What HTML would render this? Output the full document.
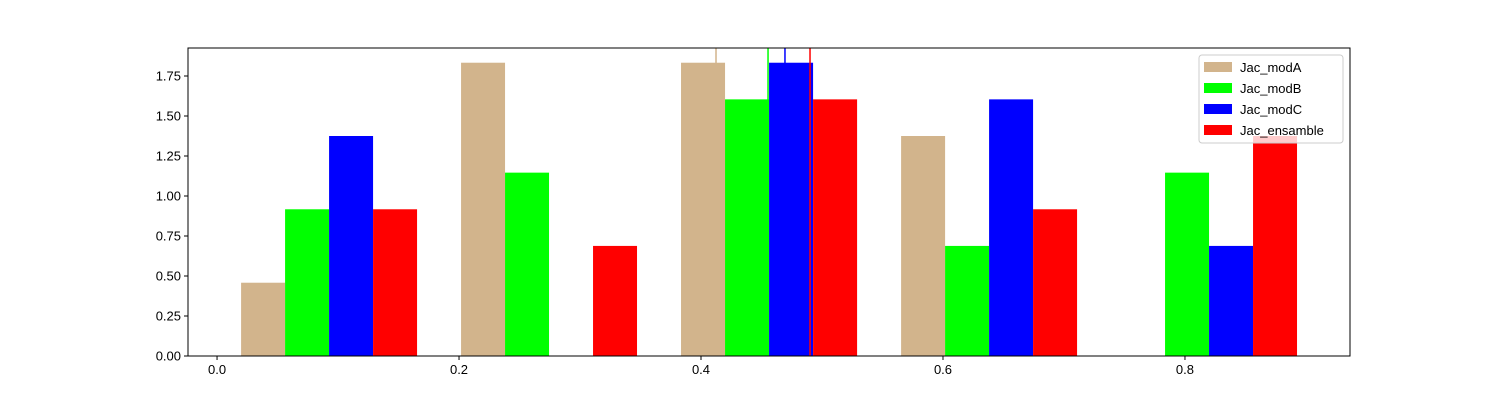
<!DOCTYPE html>
<html><head><meta charset="utf-8"><style>
html,body{margin:0;padding:0;background:#fff}
svg{display:block;font-family:"Liberation Sans","DejaVu Sans",sans-serif}
</style></head><body>
<svg id="chart" width="1500" height="400" viewBox="0 0 1500 400" xmlns="http://www.w3.org/2000/svg">
<rect width="1500" height="400" fill="#fff"/>
<g id="bars"></g>
<g id="vlines"></g>
<rect x="188" y="48" width="1162" height="308" fill="none" stroke="#000" stroke-width="1"/>
<g id="xticks"></g>
<g id="yticks"></g>
<g id="legend"></g>
</svg>
<script>
const seriesNames = ["Jac_modA","Jac_modB","Jac_modC","Jac_ensamble"];
const seriesColors = ["#d2b48c","#00ff00","#0000ff","#ff0000"];
const binEdges = [0.0017, 0.1835, 0.3653, 0.5472, 0.7290, 0.9108];
const valsA = [0.458, 1.833, 1.833, 1.375, 0];
const valsB = [0.917, 1.146, 1.604, 0.688, 1.146];
const valsC = [1.375, 0, 1.833, 1.604, 0.688];
const valsD = [0.917, 0.688, 1.604, 0.917, 1.375];
const meanLines = [0.4124, 0.4554, 0.4694, 0.4901];
const xTicks = [0.0, 0.2, 0.4, 0.6, 0.8];
const xTickLabels = ["0.0","0.2","0.4","0.6","0.8"];
const yTicks = [0, 0.25, 0.5, 0.75, 1.0, 1.25, 1.5, 1.75];
const yTickLabels = ["0.00","0.25","0.50","0.75","1.00","1.25","1.50","1.75"];

const NS="http://www.w3.org/2000/svg";
const X0=188,X1=1350,Y0=48,Y1=356;
const xMin=-0.0240, xMax=0.9364, yMin=0, yMax=1.925;
function xs(v){return X0+(v-xMin)/(xMax-xMin)*(X1-X0);}
function ys(v){return Y1-(v-yMin)/(yMax-yMin)*(Y1-Y0);}
function mk(t,a,p){const e=document.createElementNS(NS,t);for(const k in a)e.setAttribute(k,a[k]);p.appendChild(e);return e;}
const all=[valsA,valsB,valsC,valsD];
const gB=document.getElementById('bars');
for(let b=0;b<binEdges.length-1;b++){
  const w=binEdges[b+1]-binEdges[b];
  const bw=w*0.8/4;
  const start=binEdges[b]+w*0.1;
  for(let s=0;s<4;s++){
    const v=all[s][b];
    const xa=xs(start+s*bw), xb=xs(start+(s+1)*bw);
    const r=mk('rect',{x:xa,y:ys(v),width:xb-xa,height:ys(0)-ys(v),fill:seriesColors[s]},gB);
    
    
  }
}
const gV=document.getElementById('vlines');
meanLines.forEach((m,i)=>{
  const l=mk('line',{x1:xs(m),x2:xs(m),y1:Y0,y2:Y1,stroke:seriesColors[i],'stroke-width':1.5},gV);
  
  
});
const gX=document.getElementById('xticks');
xTicks.forEach((t,i)=>{
  mk('line',{x1:xs(t),x2:xs(t),y1:Y1,y2:Y1+4,stroke:'#000'},gX);
  const tx=mk('text',{x:xs(t),y:Y1+18,'text-anchor':'middle','font-size':13},gX);
  tx.textContent=xTickLabels[i];
  
  
});
const gY=document.getElementById('yticks');
yTicks.forEach((t,i)=>{
  mk('line',{x1:X0-4,x2:X0,y1:ys(t),y2:ys(t),stroke:'#000'},gY);
  const tx=mk('text',{x:X0-7,y:ys(t)+4.5,'text-anchor':'end','font-size':13},gY);
  tx.textContent=yTickLabels[i];
  
  
});
const gL=document.getElementById('legend');
mk('rect',{x:1199,y:55,width:144,height:88,rx:3,fill:'#fff','fill-opacity':0.8,stroke:'#ccc'},gL);
seriesNames.forEach((n,i)=>{
  const y=62+i*21;
  const p=mk('rect',{x:1204,y:y,width:28,height:10,fill:seriesColors[i]},gL);
  
  
  const t=mk('text',{x:1240,y:y+10,'font-size':13},gL);
  t.textContent=n;
  
  
});
</script>
</body></html>
